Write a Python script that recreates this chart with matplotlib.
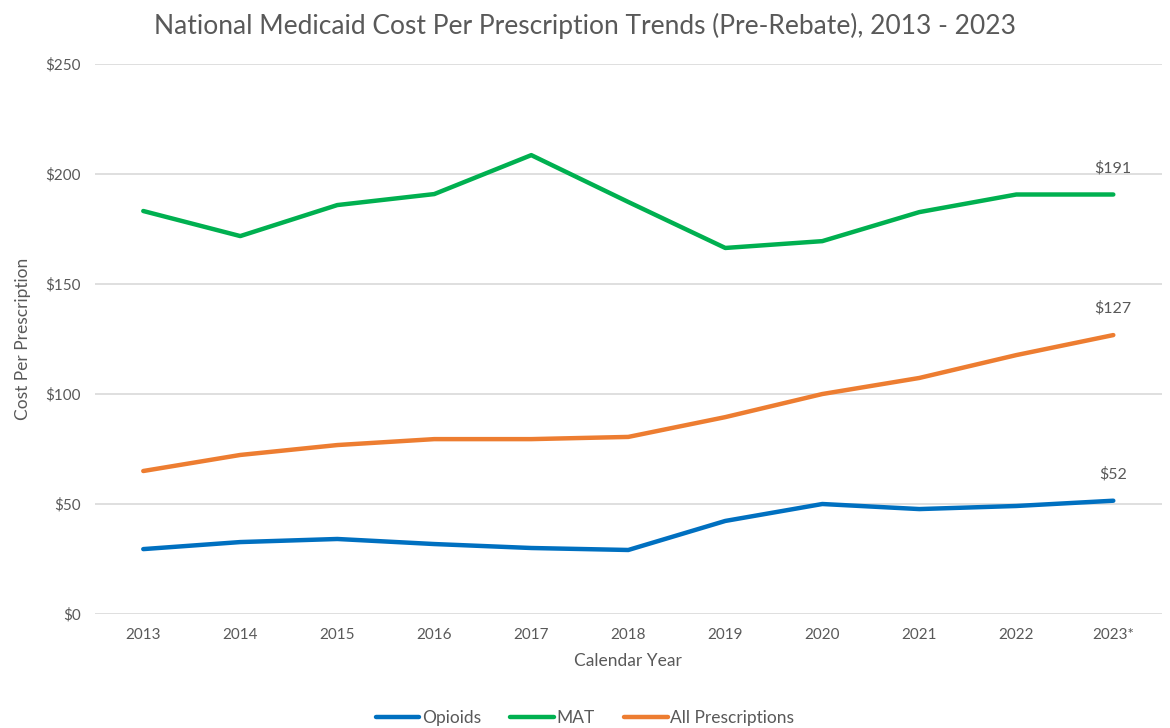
import matplotlib
matplotlib.use("Agg")
from matplotlib import pyplot as plt

years = ["2013", "2014", "2015", "2016", "2017", "2018", "2019", "2020", "2021", "2022", "2023*"]
opioids = [29.5, 32.7, 34.1, 31.8, 30.0, 29.1, 42.3, 50.0, 47.7, 49.1, 51.5]
mat = [183.2, 171.8, 185.9, 190.9, 208.6, 187.3, 166.4, 169.5, 182.7, 190.7, 190.7]
all_rx = [65.0, 72.3, 76.8, 79.5, 79.5, 80.5, 89.5, 100.0, 107.3, 117.7, 126.8]
end_labels = ["$52", "$191", "$127"]

plt.rcParams["font.family"] = ["Lato", "DejaVu Sans"]
grey = "#595959"

fig = plt.figure(figsize=(11.7, 7.28), dpi=100)
ax = fig.add_axes([0.081, 0.1566, 0.912, 0.7554])

x = list(range(len(years)))
series = [(opioids, "#0070C0", "Opioids"), (mat, "#00B050", "MAT"), (all_rx, "#ED7D31", "All Prescriptions")]
for (vals, col, name), lab in zip(series, end_labels):
    ax.plot(x, vals, color=col, lw=3.2, label=name, solid_capstyle="round")
    ax.annotate(lab, (x[-1], vals[-1]), xytext=(0, 14), textcoords="offset points",
                ha="center", va="bottom", fontsize=11.5, color=grey)

ax.set_xlim(-0.5, len(years) - 0.5)
ax.set_ylim(0, 250)
ax.set_yticks(range(0, 251, 50))
ax.set_yticklabels(["$" + str(v) for v in range(0, 251, 50)])
ax.set_xticks(x)
ax.set_xticklabels(years)
ax.grid(axis="y", color="#d9d9d9", lw=1.2)
ax.set_axisbelow(True)
for s in ax.spines.values():
    s.set_visible(False)
ax.tick_params(length=0, labelsize=11, labelcolor=grey, pad=10)

ax.set_xlabel("Calendar Year", fontsize=12.5, color=grey, labelpad=8)
ax.set_ylabel("Cost Per Prescription", fontsize=12.5, color=grey, labelpad=10)
fig.text(0.5, 0.965, "National Medicaid Cost Per Prescription Trends (Pre-Rebate), 2013 - 2023",
         ha="center", va="center", fontsize=19, color=grey)

fig.legend(loc="center", bbox_to_anchor=(0.5, 0.014), ncol=3, frameon=False, fontsize=12.5,
           labelcolor=grey, handlelength=2.5, handletextpad=0.15, columnspacing=1.7)

fig.savefig("out.png", dpi=100)
